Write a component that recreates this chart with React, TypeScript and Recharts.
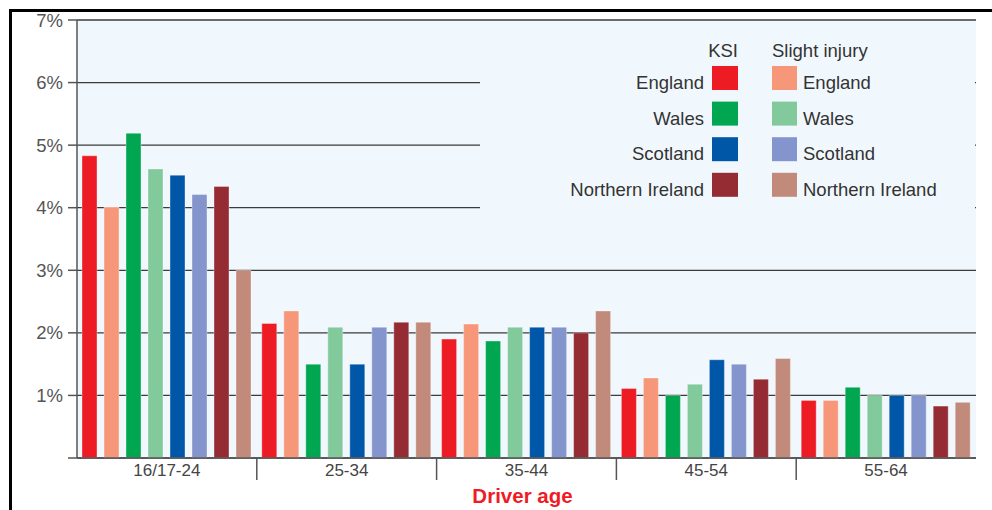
import { BarChart, Bar, XAxis, YAxis, CartesianGrid } from 'recharts';

const ageGroups = ['16/17-24', '25-34', '35-44', '45-54', '55-64'];

// share of drivers (%) by age group, KSI vs slight injury
const englandKsi = [4.83, 2.15, 1.9, 1.11, 0.92];
const englandSlight = [4.01, 2.35, 2.14, 1.28, 0.92];
const walesKsi = [5.19, 1.5, 1.87, 1.0, 1.13];
const walesSlight = [4.62, 2.09, 2.09, 1.18, 1.0];
const scotlandKsi = [4.52, 1.5, 2.09, 1.57, 1.0];
const scotlandSlight = [4.21, 2.09, 2.09, 1.5, 1.0];
const niKsi = [4.34, 2.17, 2.0, 1.26, 0.83];
const niSlight = [3.0, 2.17, 2.35, 1.59, 0.89];

const yTicks = [0, 1, 2, 3, 4, 5, 6, 7];

const countries = ['England', 'Wales', 'Scotland', 'Northern Ireland'];
const ksiColors = ['#ed1c24', '#00a650', '#0057a8', '#952b33'];
const slightColors = ['#f7977a', '#82ca9c', '#8395cc', '#c28a7a'];

const data = ageGroups.map((age, i) => ({
  age,
  englandKsi: englandKsi[i],
  englandSlight: englandSlight[i],
  walesKsi: walesKsi[i],
  walesSlight: walesSlight[i],
  scotlandKsi: scotlandKsi[i],
  scotlandSlight: scotlandSlight[i],
  niKsi: niKsi[i],
  niSlight: niSlight[i]
}));

const seriesKeys = [
  ['englandKsi', 'englandSlight'],
  ['walesKsi', 'walesSlight'],
  ['scotlandKsi', 'scotlandSlight'],
  ['niKsi', 'niSlight']
];

const BG = '#f1f8fd';
const FONT = 'Arial, "Liberation Sans", Helvetica, sans-serif';

const AgeTick = (props: any) => {
  const { x, y, payload, index } = props;
  const half = typeof payload?.offset === 'number' && payload.offset > 0 ? payload.offset : 90;
  return (
    <g>
      {index > 0 && (
        <line x1={x - half} x2={x - half} y1={y} y2={y + 22} stroke='#555' strokeWidth={1.5} />
      )}
      <text x={x} y={y + 18} textAnchor='middle' fontSize={17} fill='#444' fontFamily={FONT}>
        {payload.value}
      </text>
    </g>
  );
};

const LegendBox = () => (
  <svg
    width={992}
    height={510}
    style={{ position: 'absolute', left: 0, top: 0, pointerEvents: 'none' }}
    fontFamily={FONT}
  >
    <rect x={480} y={21} width={495} height={210} fill={BG} />
    <text x={738} y={57} textAnchor='end' fontSize={18.5} fill='#333'>KSI</text>
    <text x={772} y={57} fontSize={18.5} fill='#333'>Slight injury</text>
    {countries.map((c, i) => {
      const top = 66 + i * 35.6;
      return (
        <g key={c}>
          <text x={704} y={top + 23} textAnchor='end' fontSize={18.5} fill='#333'>{c}</text>
          <rect x={712} y={top} width={26} height={24} fill={ksiColors[i]} />
          <rect x={772} y={top} width={25} height={24} fill={slightColors[i]} />
          <text x={803} y={top + 23} fontSize={18.5} fill='#333'>{c}</text>
        </g>
      );
    })}
  </svg>
);

const App = () => (
  <div style={{ position: 'relative', width: 992, height: 510, background: '#fff', fontFamily: FONT }}>
    <style>{'body{margin:0}'}</style>
    <BarChart
      width={992}
      height={510}
      data={data}
      margin={{ top: 20, right: 16, left: 9, bottom: 22 }}
      barSize={15}
      barGap={7}
    >
      <CartesianGrid vertical={false} fill={BG} stroke='#3b3b3b' strokeWidth={1.3} />
      <XAxis
        dataKey='age'
        height={30}
        tick={<AgeTick />}
        tickLine={false}
        tickSize={0}
        tickMargin={0}
        interval={0}
        axisLine={{ stroke: '#555', strokeWidth: 1.5 }}
      />
      <YAxis
        width={68}
        domain={[0, 7]}
        ticks={yTicks}
        interval={0}
        tickSize={9}
        tickMargin={5}
        tickFormatter={(v: number) => (v === 0 ? '' : `${v}%`)}
        tick={{ fontSize: 18.5, fill: '#555' }}
        tickLine={{ stroke: '#555', strokeWidth: 1.5 }}
        axisLine={{ stroke: '#555', strokeWidth: 1.5 }}
      />
      <YAxis
        yAxisId='r'
        orientation='right'
        width={0}
        tick={false}
        tickLine={false}
        axisLine={{ stroke: '#666', strokeWidth: 1.5 }}
      />
      {seriesKeys.map(([k, s], i) => [
        <Bar
          key={k}
          dataKey={k}
          fill={ksiColors[i]}
          stroke='#ffffff'
          strokeOpacity={0.35}
          isAnimationActive={false}
        />,
        <Bar
          key={s}
          dataKey={s}
          fill={slightColors[i]}
          stroke='#ffffff'
          strokeOpacity={0.35}
          isAnimationActive={false}
        />
      ])}
    </BarChart>
    <LegendBox />
    <div
      style={{
        position: 'absolute',
        left: 73,
        width: 899,
        top: 484,
        textAlign: 'center',
        color: '#ee1c25',
        fontWeight: 'bold',
        fontSize: 20.5,
        lineHeight: '24px'
      }}
    >
      Driver age
    </div>
    <div style={{ position: 'absolute', left: 9, top: 9, width: 983, height: 3, background: '#000' }} />
    <div style={{ position: 'absolute', left: 9, top: 9, width: 3, height: 501, background: '#000' }} />
  </div>
);

export default App;
